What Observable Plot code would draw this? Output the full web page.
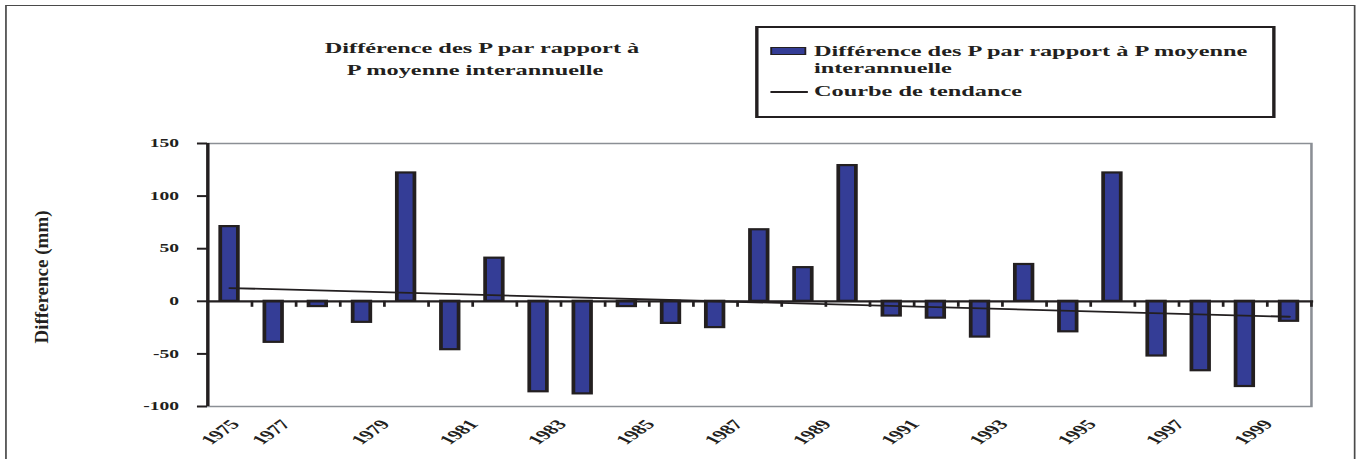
<!DOCTYPE html>
<html>
<head>
<meta charset="utf-8">
<script src="https://cdn.jsdelivr.net/npm/d3@7"></script>
<script src="https://cdn.jsdelivr.net/npm/@observablehq/plot@0.6"></script>
<style>
  html, body { margin: 0; padding: 0; overflow: hidden; background: #fff; }
  #page { position: relative; width: 1364px; height: 459px; overflow: hidden; }
  #stage { position: absolute; left: 0; top: 0; width: 802px; height: 459px;
           transform: scaleX(1.70075); transform-origin: 0 0; }
  #stage svg { position: absolute; left: 0; top: 0; }
  .txt { position: absolute; white-space: nowrap; color: #231f20;
         font-family: 'Liberation Serif', 'Times New Roman', serif; font-weight: bold; }
  .title { font-size: 14.3px; line-height: 22px; transform: translateX(-50%); }
  .leg { font-size: 14.3px; line-height: 16px; }
  #frame { position: absolute; left: 2.9px; top: 5.3px; width: 794px; height: 470px;
           border: 1.2px solid #4a4a4a; box-sizing: border-box; }
  #legend { position: absolute; left: 444px; top: 25.7px; width: 305.5px; height: 92px;
            border: 2.5px solid #231f20; box-sizing: border-box; background: #fff; }
  #swatch { position: absolute; left: 453.3px; top: 46.7px; width: 20.6px; height: 8.3px;
            background: #343d96; border: 1px solid #231f20; box-sizing: border-box; }
  #legline { position: absolute; left: 453.3px; top: 91px; width: 21.8px; height: 1.6px; background: #231f20; }
  #ytitle { position: absolute; left: 41px; top: 277px; white-space: nowrap; color: #231f20;
            font-family: 'Liberation Serif', 'Times New Roman', serif; font-weight: bold;
            font-size: 19px; line-height: 1; transform: translate(-50%, -50%) rotate(-90deg); }
</style>
</head>
<body>
<div id="page">
  <div id="stage">
    <div id="frame"></div>
  </div>
  <div id="ytitle"></div>
</div>
<script>
// ---- data ----
const years = [1975, 1976, 1977, 1978, 1979, 1980, 1981, 1982, 1983, 1984, 1985, 1986, 1987,
               1988, 1989, 1990, 1991, 1992, 1993, 1994, 1995, 1996, 1997, 1998, 1999];
const values = [71, -39, -5, -20, 122, -46, 41, -86, -88, -5, -21, -25, 68,
                32, 129, -14, -16, -34, 35, -29, 122, -52, -66, -81, -19];
const yTicks = [-100, -50, 0, 50, 100, 150];
const xTickLabels = ["1975", "1977", "1979", "1981", "1983", "1985", "1987",
                     "1989", "1991", "1993", "1995", "1997", "1999"];
const xTickAt = [1975, 1976, 1978, 1980, 1982, 1984, 1986, 1988, 1990, 1992, 1994, 1996, 1998];
const titleLines = ["Différence des P par rapport à", "P moyenne interannuelle"];
const legendBarLines = ["Différence des P par rapport à P moyenne", "interannuelle"];
const legendLineLabel = "Courbe de tendance";
const yTitle = "Difference (mm)";

const data = years.map((year, i) => ({year, value: values[i]}));
const tickData = xTickLabels.map((label, i) => ({label, at: xTickAt[i]}));

const ink = "#231f20";
const blue = "#343d96";

const labelOpts = (dx) => ({
  x: d => d.at + 0.5, text: "label", frameAnchor: "bottom",
  rotate: -50, textAnchor: "end", lineAnchor: "top", dy: 12, dx,
  fontSize: 13.5, fontWeight: "bold", fill: ink
});

const chart = Plot.plot({
  width: 802, height: 459,
  marginLeft: 121.7, marginRight: 31.4, marginTop: 143, marginBottom: 53,
  x: {domain: [years[0], years[years.length - 1] + 1], axis: null},
  y: {domain: [-100, 150], axis: null},
  style: {fontFamily: "'Liberation Serif', 'Times New Roman', serif", fontWeight: "bold",
          color: ink, background: "transparent", overflow: "visible"},
  marks: [
    Plot.frame({stroke: "#8b8f95", strokeWidth: 1.5}),
    Plot.rect(data, {x1: "year", x2: d => d.year + 1, y1: 0, y2: "value",
                     insetLeft: 7.8, insetRight: 7.8, fill: blue, stroke: ink, strokeWidth: 2.2}),
    Plot.ruleY([0], {stroke: ink, strokeWidth: 2.3, insetRight: -1.5}),
    Plot.ruleX(data, {x: d => d.year + 1, y1: 0, y2: -5.7, stroke: ink, strokeWidth: 1.6}),
    Plot.linearRegressionY(data, {x: d => d.year + 0.5, y: "value", ci: 0, stroke: ink, strokeWidth: 1.8}),
    Plot.ruleX([years[0]], {stroke: ink, strokeWidth: 2}),
    Plot.axisY({ticks: yTicks, tickSize: 5.9, tickPadding: 11, tickFormat: d => String(d),
                fontSize: 11.5, fontWeight: "bold", strokeWidth: 2, label: null}),
    Plot.text(tickData.slice(0, 1), labelOpts(-1)),
    Plot.text(tickData.slice(1, 2), labelOpts(3)),
    Plot.text(tickData.slice(2), labelOpts(9.5))
  ]
});

const stage = document.getElementById("stage");
stage.appendChild(chart);

function addDiv(cls, text, left, top, id) {
  const el = document.createElement("div");
  if (cls) el.className = cls;
  if (id) el.id = id;
  if (text != null) el.textContent = text;
  if (left != null) el.style.left = left + "px";
  if (top != null) el.style.top = top + "px";
  stage.appendChild(el);
  return el;
}

// title
addDiv("txt title", titleLines[0], 283.4, 37.2);
addDiv("txt title", titleLines[1], 279.3, 59.2);

// legend
addDiv(null, null, null, null, "legend");
addDiv(null, null, null, null, "swatch");
addDiv(null, null, null, null, "legline");
addDiv("txt leg", legendBarLines[0], 478.6, 42.7);
addDiv("txt leg", legendBarLines[1], 478.6, 59.9);
addDiv("txt leg", legendLineLabel, 478.6, 83.2);

document.getElementById("ytitle").textContent = yTitle;
</script>
</body>
</html>
